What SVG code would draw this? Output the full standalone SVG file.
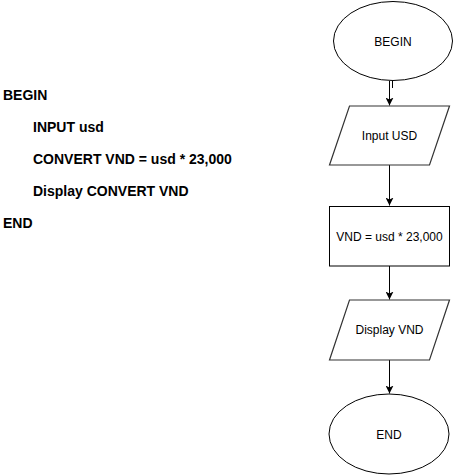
<svg xmlns="http://www.w3.org/2000/svg" width="454" height="475" viewBox="0 0 454 475">
<style>
.shape{fill:#fff;stroke:#000;stroke-width:1}
.para{fill:#fff;stroke:#333;stroke-width:1.2}
.lbl{font-family:"Liberation Sans",Arial,sans-serif;font-size:12px;fill:#000;text-anchor:middle}
.code{font-family:"Liberation Sans",Arial,sans-serif;font-size:14px;font-weight:bold;fill:#000}
.edge{fill:none;stroke:#000;stroke-width:1}
</style>
<defs>
<marker id="arrow" viewBox="0 0 10 10" refX="10" refY="5" markerWidth="8" markerHeight="8" markerUnits="userSpaceOnUse" orient="auto">
<path d="M0,0 L10,5 L0,10 L2.5,5 Z" fill="#000"/>
</marker>
</defs>
<rect width="454" height="475" fill="#fff"/>
<g id="pseudocode">
<text class="code" x="3" y="100">BEGIN</text>
<text class="code" x="33" y="132">INPUT usd</text>
<text class="code" x="33" y="164">CONVERT VND = usd * 23,000</text>
<text class="code" x="33" y="196">Display CONVERT VND</text>
<text class="code" x="3" y="228">END</text>
</g>
<g id="connectors">
<path class="edge" d="M392.5,81 V88"/>
<path class="edge" d="M389.5,81 V105.5" marker-end="url(#arrow)"/>
<path class="edge" d="M389.5,165 V205.5" marker-end="url(#arrow)"/>
<path class="edge" d="M389.5,266 V299.5" marker-end="url(#arrow)"/>
<path class="edge" d="M389.5,360 V393.5" marker-end="url(#arrow)"/>
</g>
<g id="begin">
<ellipse class="shape" cx="393" cy="41" rx="59.5" ry="39.5"/>
<text class="lbl" x="393" y="45.5">BEGIN</text>
</g>
<g id="input">
<polygon class="para" points="349.5,106 449.5,106 429.5,165 329.5,165"/>
<text class="lbl" x="389.5" y="140">Input USD</text>
</g>
<g id="convert">
<rect class="shape" x="329.5" y="206.5" width="120" height="59.5"/>
<text class="lbl" x="389.5" y="240.5">VND = usd * 23,000</text>
</g>
<g id="display">
<polygon class="para" points="349.5,300 449.5,300 429.5,360 329.5,360"/>
<text class="lbl" x="389.5" y="334">Display VND</text>
</g>
<g id="end">
<ellipse class="shape" cx="389" cy="434" rx="60" ry="40"/>
<text class="lbl" x="389" y="438.5">END</text>
</g>
</svg>
